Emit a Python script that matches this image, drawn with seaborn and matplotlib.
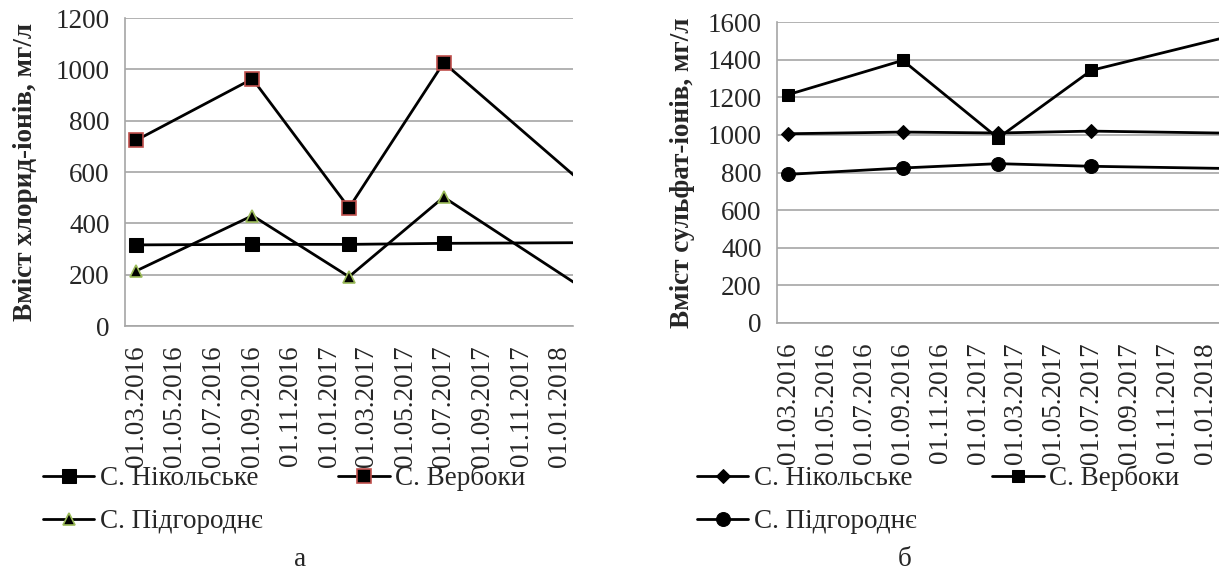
import matplotlib
matplotlib.use("Agg")
import matplotlib.pyplot as plt
import matplotlib.dates as mdates
import seaborn as sns
import pandas as pd

# ---- data ----
dates = ["2016-03-01", "2016-09-01", "2017-02-01", "2017-07-01", "2018-03-01"]
series_names = ["С. Нікольське", "С. Вербоки", "С. Підгороднє"]
chloride_nikolske = [316, 318, 318, 322, 325]
chloride_verboky = [724, 963, 460, 1026, 509]
chloride_pidhorodne = [215, 430, 192, 502, 111]
sulfate_nikolske = [1006, 1015, 1010, 1020, 1008]
sulfate_verboky = [1214, 1396, 983, 1343, 1541]
sulfate_pidhorodne = [790, 824, 847, 833, 820]
ylabel_left = "Вміст хлорид-іонів, мг/л"
ylabel_right = "Вміст сульфат-іонів, мг/л"
captions = ["а", "б"]
x_range = ["2016-02-12", "2018-01-22"]

sns.set_style("white")
plt.rcParams["font.family"] = "serif"
plt.rcParams["font.serif"] = ["Liberation Serif", "Times New Roman", "Nimbus Roman",
                              "Tinos", "DejaVu Serif"]

W, H = 1219, 576
fig = plt.figure(figsize=(W / 100, H / 100), dpi=100)

def fx(px):
    return px / W

def fy(py):
    return 1 - py / H

ax1 = fig.add_axes([fx(125), fy(326), fx(573 - 125), (326 - 18) / H])
ax2 = fig.add_axes([fx(777), fy(323), fx(1219 - 777), (323 - 22) / H])

d = pd.to_datetime(dates)
FS = 19.5
grid_col = "#a6a6a6"

def style(ax, ymax, ylab):
    ax.set_xlim(pd.to_datetime(x_range[0]), pd.to_datetime(x_range[1]))
    ax.set_ylim(0, ymax)
    ax.set_yticks(range(0, ymax + 1, 200))
    ax.yaxis.grid(True, color=grid_col, linewidth=1.2)
    ax.xaxis.grid(False)
    ax.set_axisbelow(True)
    ax.xaxis.set_major_locator(mdates.MonthLocator(bymonth=[1, 3, 5, 7, 9, 11]))
    ax.xaxis.set_major_formatter(mdates.DateFormatter("%d.%m.%Y"))
    ax.tick_params(axis="x", length=0, pad=14, labelsize=FS, labelrotation=90)
    ax.tick_params(axis="y", length=0, pad=11, labelsize=FS)
    for s in ["top", "right"]:
        ax.spines[s].set_visible(False)
    for s in ["left", "bottom"]:
        ax.spines[s].set_color(grid_col)
        ax.spines[s].set_linewidth(1.2)
    ax.set_xlabel("")
    ax.set_ylabel(ylab, fontsize=FS, fontweight="bold")

lw = 2.0
# left chart: chlorides
sns.lineplot(x=d, y=chloride_nikolske, ax=ax1, color="black", linewidth=lw,
             marker="s", markersize=10, markerfacecolor="black",
             markeredgecolor="black", label=series_names[0])
sns.lineplot(x=d, y=chloride_verboky, ax=ax1, color="black", linewidth=lw,
             marker="s", markersize=9.5, markerfacecolor="black",
             markeredgecolor="#c0504d", markeredgewidth=1.2, label=series_names[1])
sns.lineplot(x=d, y=chloride_pidhorodne, ax=ax1, color="black", linewidth=lw,
             marker="^", markersize=9, markerfacecolor="black",
             markeredgecolor="#9bbb59", markeredgewidth=1.2, label=series_names[2])

# right chart: sulfates
sns.lineplot(x=d, y=sulfate_nikolske, ax=ax2, color="black", linewidth=lw,
             marker="D", markersize=7, markerfacecolor="black",
             markeredgecolor="black", label=series_names[0])
sns.lineplot(x=d, y=sulfate_verboky, ax=ax2, color="black", linewidth=lw,
             marker="s", markersize=9, markerfacecolor="black",
             markeredgecolor="black", label=series_names[1])
sns.lineplot(x=d, y=sulfate_pidhorodne, ax=ax2, color="black", linewidth=lw,
             marker="o", markersize=10, markerfacecolor="black",
             markeredgecolor="black", label=series_names[2])

style(ax1, 1200, ylabel_left)
style(ax2, 1600, ylabel_right)
ax1.yaxis.set_label_coords(-0.195, 0.5)
ax2.yaxis.set_label_coords(-0.185, 0.5)

for ax, x0 in [(ax1, 43), (ax2, 697)]:
    h, l = ax.get_legend_handles_labels()
    if ax.get_legend():
        ax.get_legend().remove()
    order = [0, 2, 1]
    fig.legend([h[i] for i in order], [l[i] for i in order], loc="upper left",
               bbox_to_anchor=(fx(x0), fy(465)),
               bbox_transform=fig.transFigure, ncol=2, frameon=False,
               fontsize=FS, handlelength=1.9, handletextpad=0.2,
               columnspacing=2.8, labelspacing=0.67, borderpad=0,
               borderaxespad=0)

fig.text(fx(300), fy(560), captions[0], fontsize=FS, ha="center", va="center")
fig.text(fx(905), fy(560), captions[1], fontsize=FS, ha="center", va="center")

fig.savefig("out.png", dpi=100, facecolor="white")
